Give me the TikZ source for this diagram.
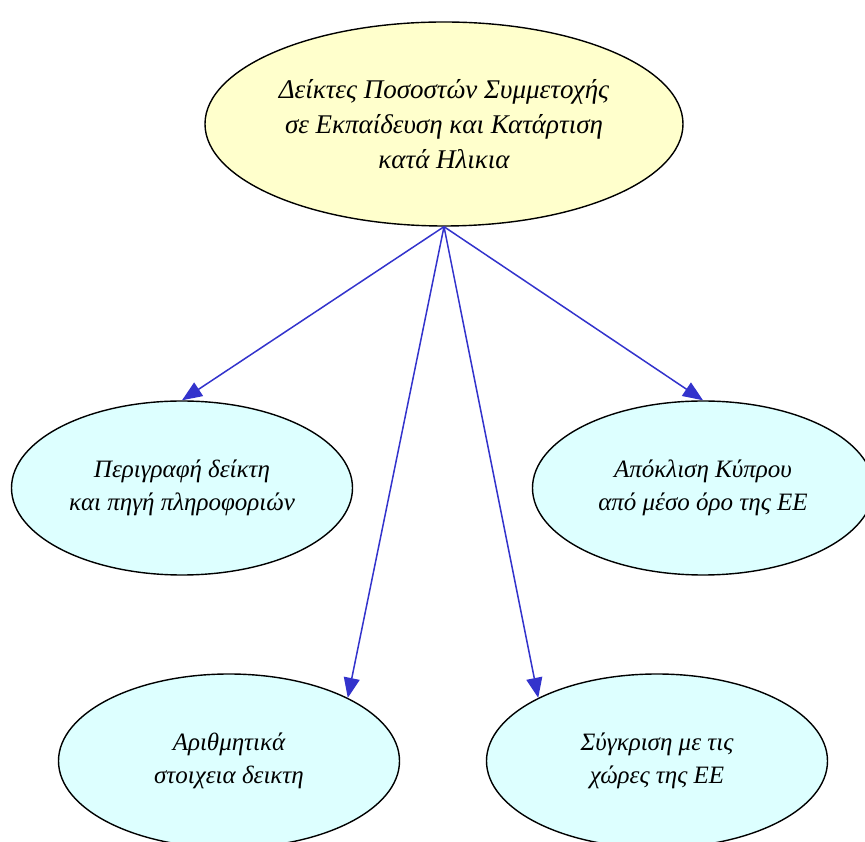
\documentclass[tikz,border=0pt]{standalone}
\usepackage{fontspec}
\setmainfont{Liberation Serif}
\usepackage{tikz}
\usetikzlibrary{shapes.geometric,arrows.meta}
\usepackage{xcolor}
\definecolor{topfill}{HTML}{FFFFCC}
\definecolor{leaffill}{HTML}{DDFFFF}
\definecolor{edgeblue}{HTML}{3333CC}

\begin{document}
\begin{tikzpicture}[x=1pt,y=1pt,
title/.style={ellipse,draw,line width=1.4pt,fill=topfill,align=center,inner sep=0pt,minimum width=478pt,minimum height=204pt,font=\itshape\fontsize{27}{35}\selectfont},
leaf/.style={ellipse,draw,line width=1.4pt,fill=leaffill,align=center,inner sep=0pt,minimum width=341pt,minimum height=174pt,font=\itshape\fontsize{25}{33}\selectfont},
arrow/.style={-{Triangle[length=20pt,width=16pt]},edgeblue,line width=1.5pt}
]
\useasboundingbox (0,0) rectangle (865,841);
\node[title] (ind) at (444,717) {Δείκτες Ποσοστών Συμμετοχής\\σε Εκπαίδευση και Κατάρτιση\\κατά Ηλικια};
\node[leaf] (desc) at (182,353) {Περιγραφή δείκτη\\και πηγή πληροφοριών};
\node[leaf] (dev) at (703,353) {Απόκλιση Κύπρου\\από μέσο όρο της ΕΕ};
\node[leaf] (num) at (229,80) {Αριθμητικά\\στοιχεια δεικτη};
\node[leaf] (cmp) at (657,80) {Σύγκριση με τις\\χώρες της ΕΕ};
\draw[arrow] (ind.south)--(desc.north);
\draw[arrow] (ind.south)--(dev.north);
\draw[arrow] (ind.south)--(num.28);
\draw[arrow] (ind.south)--(cmp.152);
\end{tikzpicture}
\end{document}
